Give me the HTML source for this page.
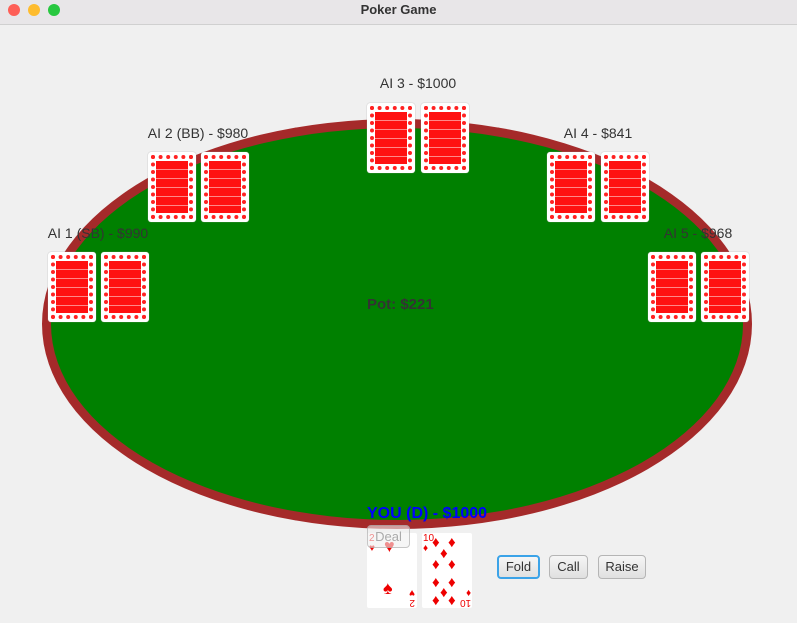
<!DOCTYPE html>
<html><head><meta charset="utf-8"><style>
*{margin:0;padding:0;box-sizing:border-box}
html,body{width:797px;height:623px;overflow:hidden}
body{background:#f0f0f0;font-family:"Liberation Sans",sans-serif;position:relative}
.tb{position:absolute;left:0;top:0;width:797px;height:25px;background:#e8e6e8;border-bottom:1px solid #d0d0d0;text-align:center;font-size:13px;font-weight:bold;line-height:19px;color:#333}
.dot{position:absolute;top:4px;width:12px;height:12px;border-radius:50%}
.lbl{position:absolute;font-size:14px;color:#333;white-space:nowrap;transform:translateX(-50%)}
.back{position:absolute;width:48px;height:70px;background:#fff;border-radius:3px;box-shadow:0 0 1px #999}
.back::before{content:"";position:absolute;left:3px;top:3px;right:3px;bottom:3px;border:4px dotted #f22}
.back::after{content:"";position:absolute;left:8px;top:9px;right:8px;bottom:9px;background:repeating-linear-gradient(#f11 0 8px,#f88 8px 9px)}
.btn{position:absolute;top:555px;height:24px;border:1px solid #b5b5b5;border-radius:4px;background:linear-gradient(#f6f6f6,#e0e0e0);font-size:13px;color:#333;text-align:center;line-height:22px}
.face{position:absolute;top:533px;width:50px;height:75px;background:#fff;border-radius:2px;color:#e00;font-size:10px;overflow:hidden}
.d{position:absolute;font-size:15px;line-height:15px}
</style></head><body>
<div class="tb">
<span class="dot" style="left:8px;background:#fe5f57"></span>
<span class="dot" style="left:28px;background:#febc2e"></span>
<span class="dot" style="left:48px;background:#28c840"></span>
Poker Game</div>
<div style="position:absolute;left:42px;top:119px;width:710px;height:410px;border-radius:50%;background:#a52a2a"></div>
<div style="position:absolute;left:51px;top:128px;width:692px;height:392px;border-radius:50%;background:#008000"></div>

<div class="lbl" style="left:418px;top:75px">AI 3 - $1000</div>
<div class="lbl" style="left:198px;top:125px">AI 2 (BB) - $980</div>
<div class="lbl" style="left:598px;top:125px">AI 4 - $841</div>
<div class="lbl" style="left:98px;top:225px">AI 1 (SB) - $990</div>
<div class="lbl" style="left:698px;top:225px">AI 5 - $968</div>

<div class="back" style="left:367px;top:103px"></div>
<div class="back" style="left:421px;top:103px"></div>
<div class="back" style="left:148px;top:152px"></div>
<div class="back" style="left:201px;top:152px"></div>
<div class="back" style="left:547px;top:152px"></div>
<div class="back" style="left:601px;top:152px"></div>
<div class="back" style="left:48px;top:252px"></div>
<div class="back" style="left:101px;top:252px"></div>
<div class="back" style="left:648px;top:252px"></div>
<div class="back" style="left:701px;top:252px"></div>

<div style="position:absolute;left:367px;top:296px;font-size:15px;font-weight:bold;color:#333">Pot: $221</div>
<div style="position:absolute;left:367px;top:505px;font-size:16px;font-weight:bold;color:#00f">YOU (D) - $1000</div>

<div class="face" style="left:367px">
<span style="position:absolute;left:2px;top:1px;line-height:10px">2<br>♥</span>
<span style="position:absolute;left:17px;top:3px;font-size:18px">♥</span>
<span style="position:absolute;left:16px;top:45px;font-size:18px">♠</span>
<span style="position:absolute;right:2px;bottom:1px;line-height:10px;transform:rotate(180deg)">2<br>♥</span></div>
<div class="face" style="left:422px">
<span style="position:absolute;left:1px;top:1px;line-height:10px">10<br>♦</span>
<span class="d" style="left:10px;top:2px">♦</span><span class="d" style="left:26px;top:2px">♦</span>
<span class="d" style="left:18px;top:13px">♦</span>
<span class="d" style="left:10px;top:24px">♦</span><span class="d" style="left:26px;top:24px">♦</span>
<span class="d" style="left:10px;top:42px">♦</span><span class="d" style="left:26px;top:42px">♦</span>
<span class="d" style="left:18px;top:52px">♦</span>
<span class="d" style="left:10px;top:60px">♦</span><span class="d" style="left:26px;top:60px">♦</span>
<span style="position:absolute;right:1px;bottom:1px;line-height:10px;transform:rotate(180deg)">10<br>♦</span>
</div>
<div style="position:absolute;left:367px;top:525px;width:43px;height:23px;border:1px solid rgba(150,150,150,.5);border-radius:4px;background:rgba(240,240,240,.6);font-size:13px;color:#aaa;text-align:center;line-height:21px">Deal</div>

<div class="btn" style="left:497px;width:43px;border:2px solid #3ba3e8;line-height:20px">Fold</div>
<div class="btn" style="left:549px;width:39px">Call</div>
<div class="btn" style="left:598px;width:48px">Raise</div>
</body></html>
